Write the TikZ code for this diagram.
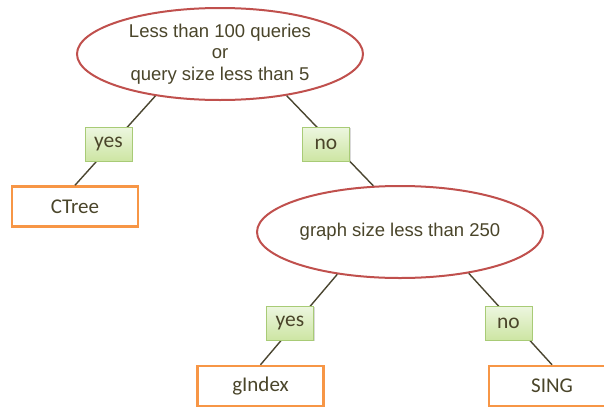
\documentclass[tikz,border=0pt]{standalone}
\usepackage{fontspec}
\setmainfont{Liberation Sans}
\newfontfamily\leaffont{Carlito}
\usetikzlibrary{shapes.geometric,shadows}
\definecolor{condred}{HTML}{C0504D}
\definecolor{leaforange}{HTML}{F79646}
\definecolor{inktext}{HTML}{4A452A}
\definecolor{edgeink}{HTML}{4A4530}
\definecolor{tagtop}{HTML}{EDF6E0}
\definecolor{tagbottom}{HTML}{CDE5A3}
\definecolor{tagline}{HTML}{A8CB76}
\begin{document}
\begin{tikzpicture}[x=1pt,y=-1pt,
  cond/.style={ellipse, draw=condred, line width=2pt, fill=white,
    minimum width=286pt, minimum height=92pt, inner sep=0pt, align=center,
    text=inktext, font=\fontsize{18.5}{21.5}\selectfont},
  leaf/.style={rectangle, draw=leaforange, line width=2.5pt, fill=white,
    minimum width=126pt, minimum height=40pt, inner sep=0pt,
    text=inktext, font=\leaffont\fontsize{21}{24}\selectfont},
  tag/.style={rectangle, draw=tagline, line width=0.8pt,
    top color=tagtop, bottom color=tagbottom,
    minimum width=47pt, minimum height=34pt, inner sep=0pt,
    text=inktext, font=\leaffont\fontsize{21.5}{24}\selectfont},
  tagshade/.style={drop shadow={shadow xshift=1.2pt, shadow yshift=-1.2pt, opacity=0.3}},
  link/.style={draw=edgeink, line width=1.4pt}]
\useasboundingbox (0,0) rectangle (604,407);

% decision nodes
\node[cond] (c1) at (220,54) {Less than 100 queries\\or\\query size less than 5};
\node[cond] (c2) at (400,232) {graph size less than 250};

% outcomes
\node[leaf] (ctree)  at (75,206.5) {CTree};
\node[leaf] (gindex) at (260.5,386) {gIndex};
\node[leaf] (sing)   at (552,386) {SING};

% branches
\draw[link] (c1.213.7) -- (ctree.north);
\draw[link] (c1.-32.6) -- (c2.120.8);
\draw[link] (c2.214) -- (gindex.north);
\draw[link] (c2.-31) -- (sing.north);

% branch labels
\node[tag,tagshade] (yes1) at (108.5,144) {yes};
\node[tag,tagshade] (no1)  at (326,144) {no};
\node[tag,tagshade] (yes2) at (290,323) {yes};
\node[tag,tagshade] (no2)  at (508.5,323) {no};
\end{tikzpicture}
\end{document}
